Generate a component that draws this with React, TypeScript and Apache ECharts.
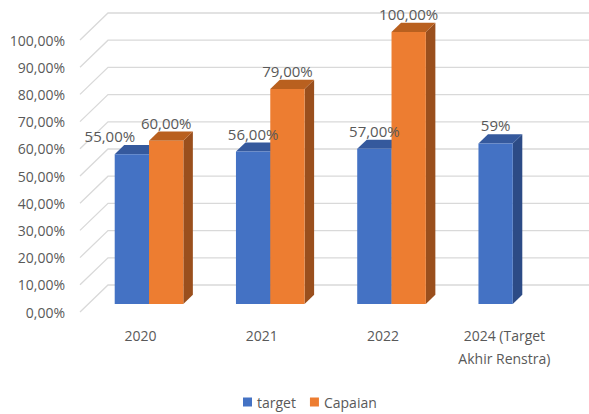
import React, { useEffect, useRef } from "react";
import * as echarts from "echarts";

const categories = ["2020", "2021", "2022", "2024 (Target\nAkhir Renstra)"];
const targetValues: (number | null)[] = [55, 56, 57, 59];
const capaianValues: (number | null)[] = [60, 79, 100, null];
const targetLabels = ["55,00%", "56,00%", "57,00%", "59%"];
const capaianLabels = ["60,00%", "79,00%", "100,00%", ""];
const yTicks = [0, 10, 20, 30, 40, 50, 60, 70, 80, 90, 100];
const yTickLabels = yTicks.map((v) => v.toFixed(2).replace(".", ",") + "%");

const FONT = "'Open Sans', 'Noto Sans', sans-serif";
const TEXT = "#595959";
const DEPTH_X = 28;
const DEPTH_Y = 27;
const FRONT = 0.3;
const BAR_D = 0.34;
const BAR_FRAC = 0.283;

const COLORS = {
  target: { front: "#4472C4", top: "#35599d", side: "#2c4b86" },
  capaian: { front: "#ED7D31", top: "#b9601f", side: "#9a4f1d" },
};

function barGeom(api: any, cat: number, v: number, slot: number) {
  const [cx, y0] = api.coord([cat, 0]);
  const [, y1] = api.coord([cat, v]);
  const catW = api.size([1, 0])[0];
  const bw = catW * BAR_FRAC;
  const fx = cx + DEPTH_X * FRONT - bw + slot * bw;
  const fy0 = y0 - DEPTH_Y * FRONT;
  const fy1 = y1 - DEPTH_Y * FRONT;
  return { fx, fy0, fy1, bw };
}

function makeBarRenderer(slot: number, c: { front: string; top: string; side: string }) {
  return (params: any, api: any) => {
    const cat = api.value(0);
    const v = api.value(1);
    if (v == null || isNaN(v)) return null;
    const { fx, fy0, fy1, bw } = barGeom(api, cat, v, slot);
    const ddx = DEPTH_X * BAR_D;
    const ddy = DEPTH_Y * BAR_D;
    return {
      type: "group",
      children: [
        {
          type: "polygon",
          shape: {
            points: [
              [fx + bw, fy1],
              [fx + bw + ddx, fy1 - ddy],
              [fx + bw + ddx, fy0 - ddy],
              [fx + bw, fy0],
            ],
          },
          style: { fill: c.side },
        },
        {
          type: "polygon",
          shape: {
            points: [
              [fx, fy1],
              [fx + bw, fy1],
              [fx + bw + ddx, fy1 - ddy],
              [fx + ddx, fy1 - ddy],
            ],
          },
          style: { fill: c.top },
        },
        {
          type: "rect",
          shape: { x: fx, y: fy1, width: bw, height: fy0 - fy1 },
          style: { fill: c.front },
        },
      ],
    };
  };
}

export default function App() {
  const ref = useRef<HTMLDivElement>(null);
  useEffect(() => {
    if (!ref.current) return;
    const chart = echarts.init(ref.current, undefined, { renderer: "svg" });
    const option: any = {
      animation: false,
      backgroundColor: "#ffffff",
      grid: { left: 80, top: 40, width: 485, height: 272, containLabel: false },
      legend: {
        data: ["target", "Capaian"],
        top: 390,
        left: 238,
        icon: "rect",
        itemWidth: 9,
        itemHeight: 9,
        itemGap: 14,
        textStyle: { color: TEXT, fontSize: 14, fontFamily: FONT },
      },
      xAxis: {
        type: "category",
        data: categories,
        axisLine: { show: false },
        axisTick: { show: false },
        splitLine: { show: false },
        axisLabel: {
          color: TEXT,
          fontSize: 14,
          fontFamily: FONT,
          lineHeight: 23,
          margin: 12,
          interval: 0,
        },
      },
      yAxis: {
        type: "value",
        min: 0,
        max: 100,
        interval: 10,
        axisLine: { show: false },
        axisTick: { show: false },
        splitLine: { show: false },
        axisLabel: {
          color: TEXT,
          fontSize: 14,
          fontFamily: FONT,
          margin: 15,
          formatter: (v: number) => yTickLabels[yTicks.indexOf(Math.round(v))] ?? "",
        },
      },
      series: [
        {
          type: "custom",
          name: "grid3d",
          z: 0,
          silent: true,
          data: yTicks.map((v) => [0, v]),
          encode: { x: 0, y: 1 },
          renderItem: (params: any, api: any) => {
            const cs = params.coordSys;
            const y = api.coord([0, api.value(1)])[1];
            return {
              type: "polyline",
              shape: {
                points: [
                  [cs.x, y],
                  [cs.x + DEPTH_X, y - DEPTH_Y],
                  [cs.x + cs.width + DEPTH_X, y - DEPTH_Y],
                ],
              },
              style: { stroke: "#d9d9d9", lineWidth: 1.3, fill: null },
            };
          },
        },
        {
          type: "custom",
          name: "target",
          z: 2,
          itemStyle: { color: COLORS.target.front },
          data: targetValues.map((v, i) => [i, v]).filter((d) => d[1] != null),
          encode: { x: 0, y: 1 },
          renderItem: makeBarRenderer(0, COLORS.target),
        },
        {
          type: "custom",
          name: "Capaian",
          z: 2,
          itemStyle: { color: COLORS.capaian.front },
          data: capaianValues.map((v, i) => [i, v]).filter((d) => d[1] != null),
          encode: { x: 0, y: 1 },
          renderItem: makeBarRenderer(1, COLORS.capaian),
        },
        {
          type: "custom",
          name: "labels",
          z: 3,
          silent: true,
          data: categories.map((_, i) => [i, 0]),
          encode: { x: 0, y: 1 },
          renderItem: (params: any, api: any) => {
            const i = api.value(0);
            const children: any[] = [];
            const t = targetValues[i];
            const c = capaianValues[i];
            let tg: any = null;
            let cg: any = null;
            if (t != null) tg = barGeom(api, i, t, 0);
            if (c != null) cg = barGeom(api, i, c, 1);
            const mk = (text: string, x: number, y: number) => ({
              type: "text",
              style: {
                text,
                x,
                y,
                align: "center",
                verticalAlign: "middle",
                fill: TEXT,
                fontSize: 15,
                fontFamily: FONT,
              },
            });
            if (tg) {
              let x = tg.fx + tg.bw / 2;
              if (cg && Math.abs(tg.fy1 - cg.fy1) < 20) x -= 22;
              children.push(mk(targetLabels[i], x, tg.fy1 - 18));
            }
            if (cg) {
              children.push(mk(capaianLabels[i], cg.fx + cg.bw / 2, cg.fy1 - 18));
            }
            return { type: "group", children };
          },
        },
      ],
    };
    chart.setOption(option);
    return () => chart.dispose();
  }, []);
  return (
    <div
      ref={ref}
      style={{ position: "fixed", left: 0, top: 0, width: 589, height: 414 }}
    />
  );
}
